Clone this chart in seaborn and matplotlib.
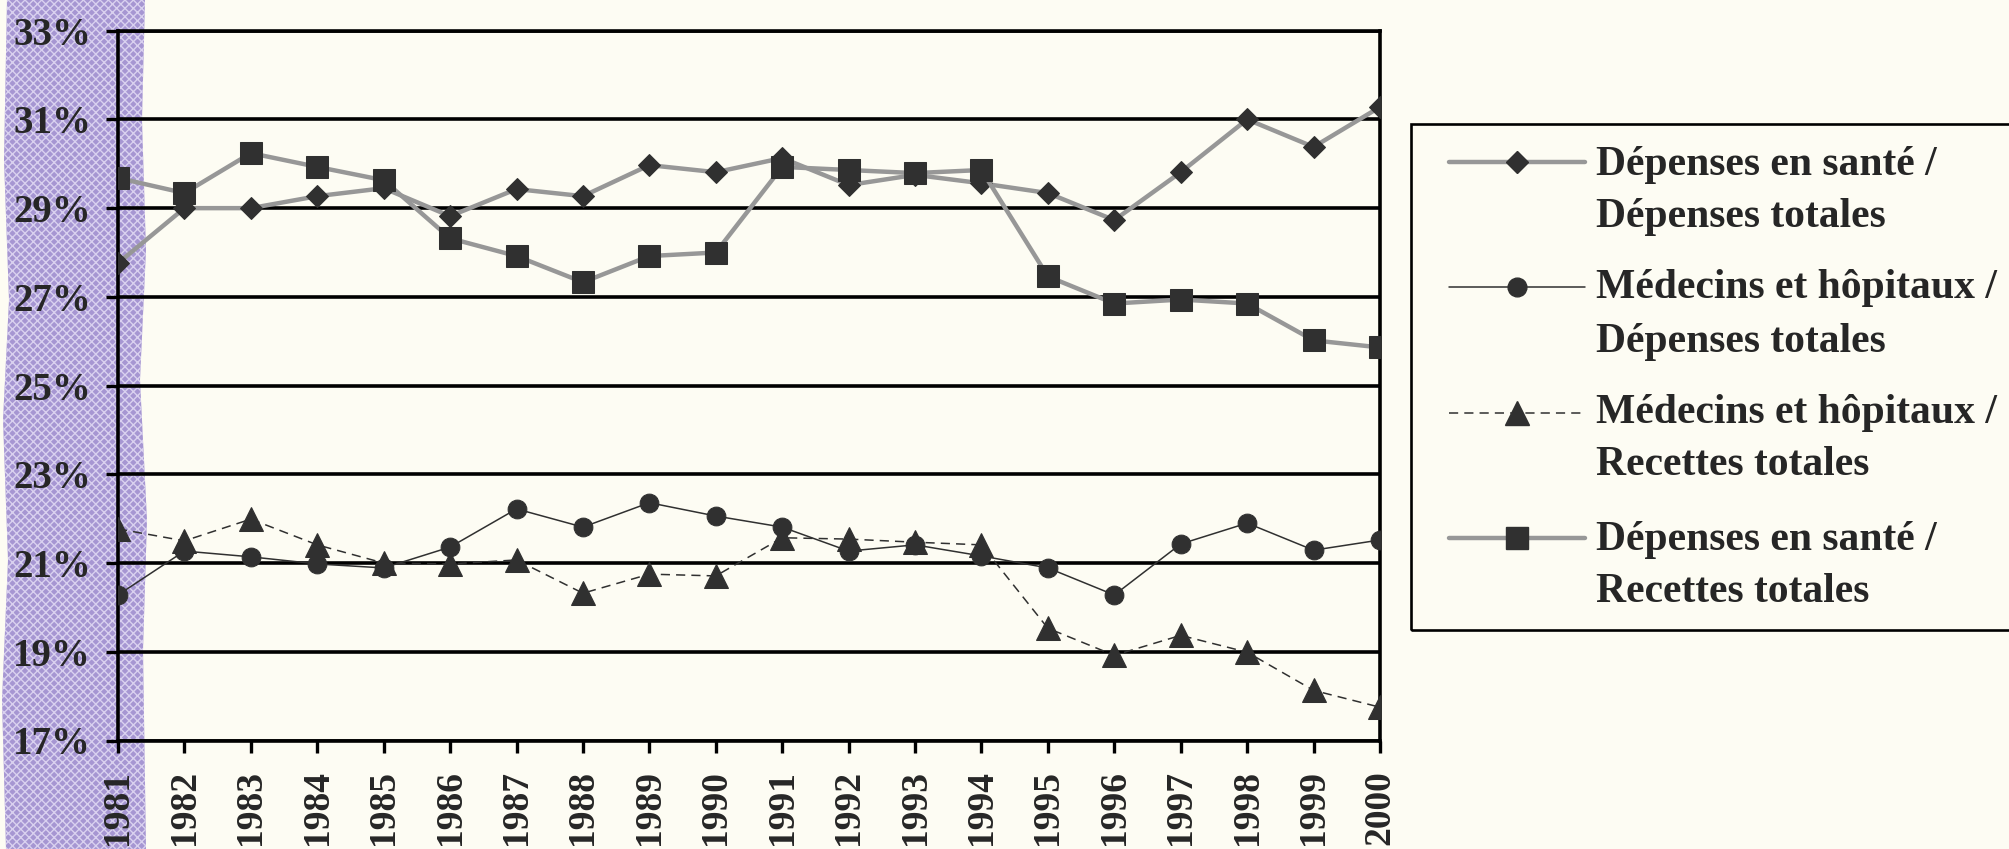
import numpy as np
import pandas as pd
import matplotlib
matplotlib.use("Agg")
import matplotlib.pyplot as plt
from matplotlib.patches import Polygon, Rectangle
from matplotlib.lines import Line2D
import seaborn as sns

# data (percent)
years = list(range(1981, 2001))
sante_dep = [27.76, 29.00, 29.00, 29.27, 29.45, 28.82, 29.43, 29.27, 29.97, 29.81,
             30.13, 29.52, 29.75, 29.56, 29.34, 28.73, 29.81, 31.00, 30.38, 31.28]
medhop_dep = [20.28, 21.27, 21.14, 20.98, 20.89, 21.36, 22.22, 21.81, 22.36, 22.06,
              21.81, 21.27, 21.41, 21.16, 20.89, 20.28, 21.43, 21.90, 21.29, 21.52]
medhop_rec = [21.77, 21.50, 21.99, 21.41, 21.00, 20.98, 21.07, 20.32, 20.75, 20.71,
              21.57, 21.54, 21.47, 21.41, 19.53, 18.92, 19.37, 18.99, 18.13, 17.75]
sante_rec = [29.68, 29.34, 30.24, 29.93, 29.63, 28.32, 27.92, 27.33, 27.92, 28.00,
             29.93, 29.86, 29.79, 29.86, 27.46, 26.85, 26.94, 26.85, 26.02, 25.86]
y_ticks = list(range(17, 34, 2))
legend_labels = [("Dépenses en santé /", "Dépenses totales"),
                 ("Médecins et hôpitaux /", "Dépenses totales"),
                 ("Médecins et hôpitaux /", "Recettes totales"),
                 ("Dépenses en santé /", "Recettes totales")]

df = pd.DataFrame({"annee": years, "sante_dep": sante_dep, "medhop_dep": medhop_dep,
                   "medhop_rec": medhop_rec, "sante_rec": sante_rec})

sns.set_style("white")
plt.rcParams['font.family'] = ['Liberation Serif', 'DejaVu Serif']
plt.rcParams['font.weight'] = 'bold'

bg = '#fdfcf3'
dark = '#303030'
grey = '#979797'

W, H = 2009, 849
def fx(px):
    return px / W
def fy(py):
    return 1 - py / H

fig = plt.figure(figsize=(W / 100, H / 100), dpi=100, facecolor=bg)

# purple stripe on the left
stripe_px = [(7, 0), (145, 0), (142, 120), (146, 250), (140, 380), (147, 520),
             (143, 650), (146, 849), (6, 849), (2, 700), (8, 560), (3, 420),
             (9, 300), (4, 160)]
stripe = Polygon([(fx(a), fy(b)) for a, b in stripe_px], closed=True,
                 transform=fig.transFigure, facecolor='#a696d2', edgecolor='#d9d1ef',
                 hatch='xxxx', lw=0, zorder=-5)
fig.add_artist(stripe)

ax = fig.add_axes([fx(118), fy(740.5), (1380 - 118) / W, (740.5 - 30.7) / H])
ax.set_facecolor('none')

sns.lineplot(data=df, x="annee", y="sante_dep", ax=ax, color=grey, lw=3.2,
             marker='D', ms=11.5, mfc=dark, mec=dark, legend=False, zorder=4)
sns.lineplot(data=df, x="annee", y="medhop_dep", ax=ax, color=dark, lw=1.1,
             marker='o', ms=13.5, mfc=dark, mec=dark, legend=False, zorder=3)
sns.lineplot(data=df, x="annee", y="medhop_rec", ax=ax, color=dark, lw=1.1,
             linestyle=(0, (6, 4)), marker='^', ms=17, mfc=dark, mec=dark,
             legend=False, zorder=3)
sns.lineplot(data=df, x="annee", y="sante_rec", ax=ax, color=grey, lw=3.2,
             marker='s', ms=16, mfc=dark, mec=dark, legend=False, zorder=4)

ax.set_xlim(1981, 2000)
ax.set_ylim(17, 33)
ax.set_xticks(years)
ax.set_xticklabels([str(y) for y in years], rotation=90)
ax.set_yticks(y_ticks)
ax.set_yticklabels([f"{v}%" for v in y_ticks])
ax.set_xlabel("")
ax.set_ylabel("")
ax.grid(axis='y', color='black', lw=2.6)
ax.grid(axis='x', visible=False)
ax.set_axisbelow(True)
for s in ax.spines.values():
    s.set_color('black')
    s.set_linewidth(2.6)
ax.tick_params(axis='both', direction='out', length=8.5, width=2.4, color='black',
               bottom=True, left=True)
ax.tick_params(axis='y', pad=11, labelsize=28)
ax.tick_params(axis='x', pad=13, labelsize=27)

# legend box (cut by the right edge)
fig.add_artist(Rectangle((fx(1411), fy(630)), fx(2040) - fx(1411), fy(124) - fy(630),
                         transform=fig.transFigure, facecolor='none',
                         edgecolor='black', lw=1.9))
handle_y = [162, 287, 413, 538]
baselines = [(175, 227), (298, 352), (423, 475), (550, 602)]
styles = [dict(color=grey, lw=3.2, ls='-', marker='D', ms=11.5),
          dict(color=dark, lw=1.1, ls='-', marker='o', ms=13.5),
          dict(color=dark, lw=1.1, ls=(0, (6, 4)), marker='^', ms=17),
          dict(color=grey, lw=3.2, ls='-', marker='s', ms=16)]
for hy, (b1, b2), st, (l1, l2) in zip(handle_y, baselines, styles, legend_labels):
    fig.add_artist(Line2D([fx(1449), fx(1585)], [fy(hy), fy(hy)], transform=fig.transFigure,
                          color=st['color'], lw=st['lw'], ls=st['ls']))
    fig.add_artist(Line2D([fx(1517)], [fy(hy)], transform=fig.transFigure, ls='none',
                          marker=st['marker'], ms=st['ms'], mfc=dark, mec=dark))
    fig.text(fx(1596), fy(b1), l1, fontsize=30, fontweight='bold', va='baseline', ha='left')
    fig.text(fx(1596), fy(b2), l2, fontsize=30, fontweight='bold', va='baseline', ha='left')

fig.savefig("out.png", dpi=100, facecolor=bg)
